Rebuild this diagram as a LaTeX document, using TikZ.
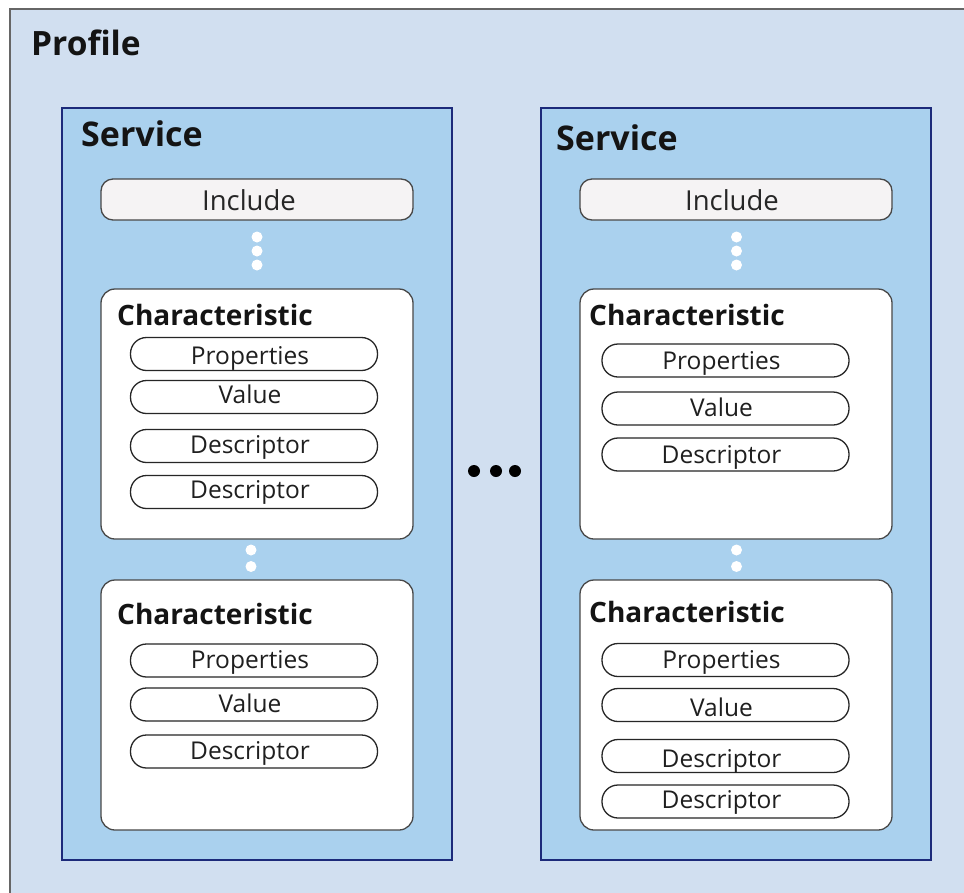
\documentclass[tikz,border=0pt]{standalone}
\usepackage{fontspec}
\IfFontExistsTF{Open Sans Bold}
    {\setmainfont{Open Sans}[BoldFont={Open Sans Bold}]}
    {\setmainfont{Noto Sans}[BoldFont={Noto Sans},BoldFeatures={FakeBold=3,FakeStretch=1.15}]}

\definecolor{profilebg}{RGB}{209,223,240}
\definecolor{servicebg}{RGB}{170,209,238}
\definecolor{serviceline}{RGB}{28,42,122}
\definecolor{includebg}{RGB}{245,243,244}
\definecolor{boxline}{RGB}{72,72,72}

\tikzset{
    title/.style={anchor=base west,inner sep=0pt,font=\bfseries\fontsize{33.5}{38}\selectfont,text=black!92},
    servicebox/.style={draw=serviceline,line width=2.8pt,fill=servicebg,minimum width=390pt,minimum height=752pt,inner sep=0pt},
    includebox/.style={draw=boxline,line width=1.3pt,fill=includebg,rounded corners=12pt,minimum width=312pt,minimum height=41pt,
        inner sep=0pt,text height=22.4pt,text depth=0pt,font=\fontsize{27.5}{32}\selectfont,text=black!85},
    charbox/.style={draw=boxline,line width=1.3pt,fill=white,rounded corners=14pt,minimum width=312pt,minimum height=250pt,inner sep=0pt},
    chartitle/.style={anchor=base west,inner sep=0pt,font=\bfseries\fontsize{28}{32}\selectfont,text=black!92},
    pill/.style={draw=black!85,line width=1.3pt,fill=white,rounded corners=16pt,minimum width=247pt,minimum height=33pt,
        inner sep=0pt,text height=17pt,text depth=0pt,font=\fontsize{24.5}{28}\selectfont,text=black!88,
        execute at end node=\hspace*{8pt}}
}

\begin{document}
\begin{tikzpicture}[x=1pt,y=-1pt]
    \useasboundingbox (0,0) rectangle (964,892);
    \clip (0,0) rectangle (964,892);

    % profile
    \draw[draw=black!60,line width=1.5pt,fill=profilebg] (10,9) rectangle (990,920);
    \node[title] (profile) at (31,55) {Profile};

    % services
    \node[servicebox] (s1) at (257,484) {};
    \node[servicebox] (s2) at (736,484) {};
    \node[title,font=\bfseries\fontsize{34}{39}\selectfont] (s1t) at (81,146.5) {Service};
    \node[title,font=\bfseries\fontsize{34}{39}\selectfont] (s2t) at (556,150.5) {Service};

    \node[includebox,execute at end node=\hspace*{16pt}] (inc1) at (257,199.5) {Include};
    \node[includebox,text height=21pt,execute at end node=\hspace*{8pt}] (inc2) at (736,199.5) {Include};

    % characteristics
    \begin{scope}[every node/.style={charbox}]
        \node (c1) at (257,414) {};
        \node (c2) at (257,705) {};
        \node (c3) at (736,414) {};
        \node (c4) at (736,705) {};
    \end{scope}

    \node[chartitle] (c1t) at (117,325) {Characteristic};
    \node[chartitle] (c2t) at (117,624.5) {Characteristic};
    \node[chartitle] (c3t) at (589,325) {Characteristic};
    \node[chartitle] (c4t) at (589,622) {Characteristic};

    \begin{scope}[every node/.style={pill}]
        \node[text height=21.6pt] (p1) at (254,354) {Properties};
        \node[text height=13.5pt] (v1) at (254,397) {Value};
        \node[text height=14.4pt] (d1) at (254,446) {Descriptor};
        \node[text height=13.6pt] (d1b) at (254,492) {Descriptor};

        \node[text height=15.6pt] (p2) at (254,660.5) {Properties};
        \node[text height=16pt] (v2) at (254,704.5) {Value};
        \node[text height=16.4pt] (d2) at (254,751.5) {Descriptor};

        \node[text height=18.4pt] (p3) at (725.5,360.5) {Properties};
        \node[text height=15pt] (v3) at (725.5,408.5) {Value};
        \node[text height=18.4pt] (d3) at (725.5,454.5) {Descriptor};

        \node[text height=17pt] (p4) at (725.5,660) {Properties};
        \node[text height=22.4pt] (v4) at (725.5,705) {Value};
        \node[text height=23.6pt] (d4) at (725.5,756) {Descriptor};
        \node[text height=13.6pt] (d4b) at (725.5,801.5) {Descriptor};
    \end{scope}

    % dots
    \foreach \y in {237,251,265} {
        \fill[white] (257,\y) circle (5.5);
        \fill[white] (736.5,\y) circle (5.5);
    }
    \foreach \y in {550,566.5} {
        \fill[white] (251,\y) circle (5.5);
        \fill[white] (736.5,\y) circle (5.5);
    }
    \foreach \x in {474,496,515} {
        \fill[black] (\x,471) circle (6);
    }

\end{tikzpicture}
\end{document}
